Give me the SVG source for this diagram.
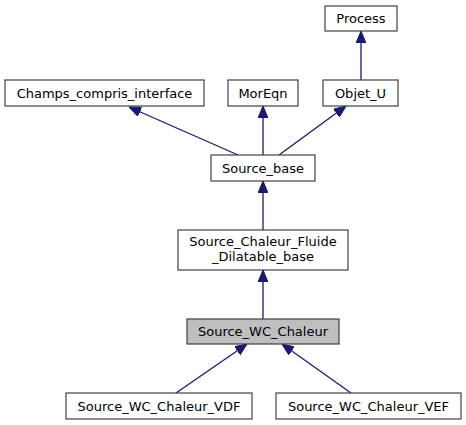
<svg xmlns="http://www.w3.org/2000/svg" width="466" height="425" viewBox="0 0 466 425">
<style>
.n rect{fill:#ffffff;stroke:#404040;stroke-width:1.2}
.n text{font-family:"DejaVu Sans",sans-serif;font-size:13px;fill:#000;text-anchor:middle}
.e line{stroke:#191970;stroke-width:1.3;marker-end:url(#a)}
</style>
<defs>
<marker id="a" viewBox="0 0 12 10" refX="12" refY="5" markerWidth="12" markerHeight="10" markerUnits="userSpaceOnUse" orient="auto">
<path d="M0,0 L12,5 L0,10 z" fill="#191970" stroke="#191970"/>
</marker>
</defs>
<rect width="466" height="425" fill="#ffffff"/>
<g class="e">
<line x1="361" y1="80" x2="361" y2="31"/>
<line x1="238" y1="155" x2="129" y2="107"/>
<line x1="263" y1="155" x2="263" y2="106"/>
<line x1="279" y1="155" x2="346" y2="106"/>
<line x1="263" y1="230" x2="263" y2="181"/>
<line x1="263" y1="319" x2="263" y2="270"/>
<line x1="176" y1="393" x2="247" y2="344"/>
<line x1="351" y1="393" x2="282" y2="344"/>
</g>
<g id="process" class="n"><rect x="325" y="6" width="72" height="25"/><text x="361" y="23">Process</text></g>
<g id="champs" class="n"><rect x="5" y="80" width="199" height="26"/><text x="104.5" y="97.5">Champs_compris_interface</text></g>
<g id="moreqn" class="n"><rect x="228" y="80" width="70" height="26"/><text x="263" y="97.5">MorEqn</text></g>
<g id="objetu" class="n"><rect x="323" y="80" width="75" height="26"/><text x="360.5" y="97.5">Objet_U</text></g>
<g id="sourcebase" class="n"><rect x="211" y="155" width="104" height="26"/><text x="263" y="172.5">Source_base</text></g>
<g id="scfdb" class="n"><rect x="178" y="230" width="170" height="40"/><text x="263" y="246">Source_Chaleur_Fluide</text><text x="263" y="261">_Dilatable_base</text></g>
<g id="swc" class="n"><rect x="187" y="319" width="152" height="25" style="fill:#bfbfbf"/><text x="263" y="336">Source_WC_Chaleur</text></g>
<g id="vdf" class="n"><rect x="66" y="393" width="186" height="26"/><text x="159" y="410.5">Source_WC_Chaleur_VDF</text></g>
<g id="vef" class="n"><rect x="276" y="393" width="185" height="26"/><text x="368.5" y="410.5">Source_WC_Chaleur_VEF</text></g>
</svg>
